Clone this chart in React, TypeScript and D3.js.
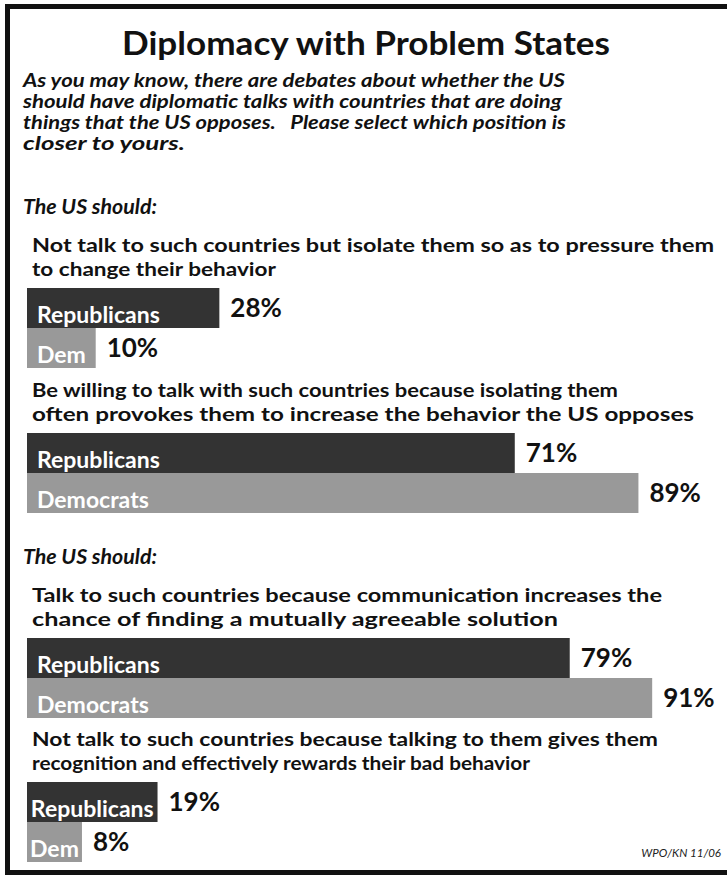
import React from "react";
import * as d3 from "d3";

const title = "Diplomacy with Problem States";
const subtitleLines = [
  "As you may know, there are debates about whether the US",
  "should have diplomatic talks with countries that are doing",
  "things that the US opposes.   Please select which position is",
  "closer to yours.",
];
const sectionHeading = "The US should:";
const questionLines = [
  ["Not talk to such countries but isolate them so as to pressure them", "to change their behavior"],
  ["Be willing to talk with such countries because isolating them", "often provokes them to increase the behavior the US opposes"],
  ["Talk to such countries because communication increases the", "chance of finding a mutually agreeable solution"],
  ["Not talk to such countries because talking to them gives them", "recognition and effectively rewards their bad behavior"],
];
const repLabels = ["Republicans", "Republicans", "Republicans", "Republicans"];
const demLabels = ["Dem", "Democrats", "Democrats", "Dem"];
const repValues = [28, 71, 79, 19];
const demValues = [10, 89, 91, 8];
const source = "WPO/KN 11/06";

const W = 727;
const H = 876;
const FONT = "Lato, 'Open Sans', sans-serif";
const REP_COLOR = "#333333";
const DEM_COLOR = "#999999";

// rendered widths of text lines in the original (the original face is wider than Lato)
const subtitleWidths = [542, 539, 543, 162];
const questionWidths = [
  [682, 244],
  [586, 662],
  [630, 526],
  [626, 498],
];

let ctx: CanvasRenderingContext2D | null = null;
function measure(text: string, font: string): number {
  if (!ctx) ctx = document.createElement("canvas").getContext("2d");
  if (!ctx) return text.length * 11;
  ctx.font = font;
  return ctx.measureText(text).width;
}

export default function App() {
  const x = d3.scaleLinear().domain([0, 100]).range([27, 27 + 687]);
  const barH = 40;
  const groupTops = [288, 433, 638, 782];
  const headingY = [214, 564];
  const fmt = (v: number) => `${v}%`;
  const labelSize = 23;

  return (
    <svg
      width={W}
      height={H}
      style={{ position: "absolute", left: 0, top: 0, background: "#fff" }}
      fontFamily={FONT}
    >
      <rect x={0} y={0} width={W} height={H} fill="#fff" />
      <rect x={7.5} y={6.5} width={740} height={866} fill="none" stroke="#111" strokeWidth={5} />
      <text
        x={366}
        y={55}
        textAnchor="middle"
        fontSize={32}
        fontWeight={700}
        fill="#111"
        textLength={488}
        lengthAdjust="spacingAndGlyphs"
      >
        {title}
      </text>
      {subtitleLines.map((t, i) => (
        <text
          key={i}
          x={23}
          y={87 + i * 21}
          fontSize={19}
          fontWeight={700}
          fontStyle="italic"
          fill="#111"
          textLength={subtitleWidths[i]}
          lengthAdjust="spacingAndGlyphs"
          style={{ whiteSpace: "pre" }}
        >
          {t}
        </text>
      ))}
      {headingY.map((y, i) => (
        <text
          key={i}
          x={23}
          y={y}
          fontSize={21}
          fontWeight={700}
          fontStyle="italic"
          fill="#111"
          textLength={134}
          lengthAdjust="spacingAndGlyphs"
        >
          {sectionHeading}
        </text>
      ))}
      {questionLines.map((lines, gi) => {
        const top = groupTops[gi];
        return (
          <g key={gi}>
            {lines.map((t, li) => (
              <text
                key={li}
                x={32}
                y={top - 12 - (lines.length - 1 - li) * 24}
                fontSize={19.5}
                fontWeight={700}
                fill="#111"
                textLength={questionWidths[gi][li]}
                lengthAdjust="spacingAndGlyphs"
              >
                {t}
              </text>
            ))}
            {[
              { v: repValues[gi], label: repLabels[gi], color: REP_COLOR },
              { v: demValues[gi], label: demLabels[gi], color: DEM_COLOR },
            ].map((b, bi) => {
              const y0 = top + bi * barH;
              const bw = x(b.v) - x(0);
              const lw = measure(b.label, `700 ${labelSize}px Lato`);
              const pad = Math.max(2, Math.min(10, (bw - lw) / 2));
              return (
                <g key={bi}>
                  <rect x={x(0)} y={y0} width={bw} height={barH} fill={b.color} />
                  <text x={x(0) + pad} y={y0 + barH - 5} fontSize={labelSize} fontWeight={700} fill="#fff">
                    {b.label}
                  </text>
                  <text x={x(b.v) + 11} y={y0 + barH / 2 + 9} fontSize={26} fontWeight={700} fill="#111">
                    {fmt(b.v)}
                  </text>
                </g>
              );
            })}
          </g>
        );
      })}
      <text x={721} y={857} textAnchor="end" fontSize={11.5} fontStyle="italic" fill="#222">
        {source}
      </text>
    </svg>
  );
}
